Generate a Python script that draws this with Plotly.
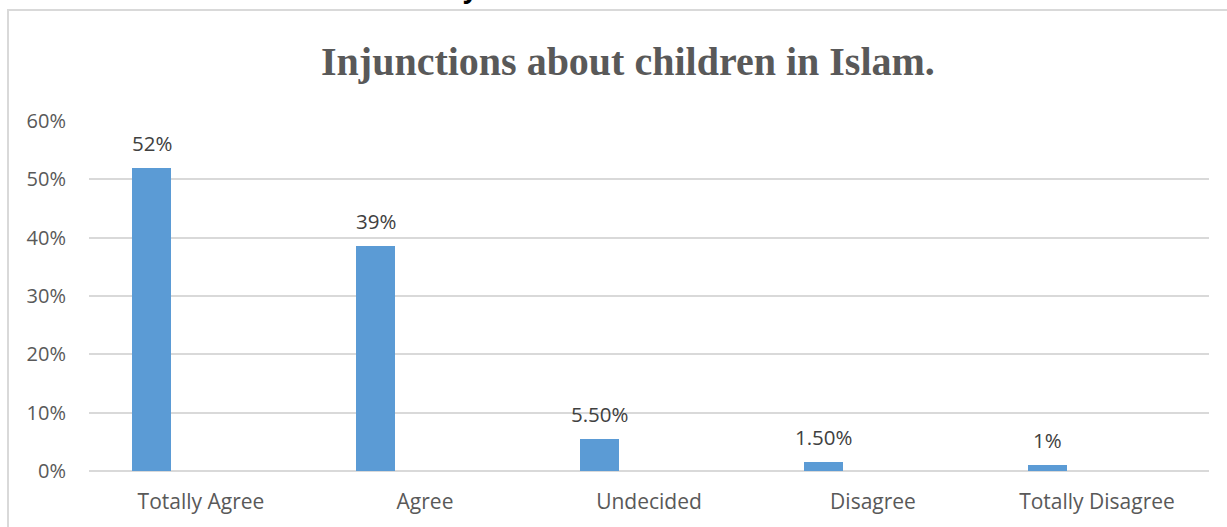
import plotly.graph_objects as go

categories = ["Totally Agree", "Agree", "Undecided", "Disagree", "Totally Disagree"]
values = [52, 38.5, 5.5, 1.5, 1]
value_labels = ["52%", "39%", "5.50%", "1.50%", "1%"]
y_ticks = [0, 10, 20, 30, 40, 50, 60]
y_tick_labels = ["0%", "10%", "20%", "30%", "40%", "50%", "60%"]
title_text = "Injunctions about children in Islam."
cut_text = "y"

W, H = 1227, 527
L, R, T, B = 89, 18, 121, 56
pw, ph = W - L - R, H - T - B

BAR_W = 39 / 224
BAR_OFF = -69 / 224
LABEL_XSHIFT = -49.5
FONT = "Open Sans"

fig = go.Figure()
fig.add_trace(go.Bar(
    x=categories, y=values,
    width=[BAR_W] * len(categories), offset=BAR_OFF,
    marker=dict(color="#5B9BD5", line=dict(width=0)),
    hoverinfo="skip",
))

for c, v, t in zip(categories, values, value_labels):
    fig.add_annotation(x=c, y=v, text=t, showarrow=False, xref="x", yref="y",
                       xshift=LABEL_XSHIFT, yshift=25, yanchor="middle",
                       font=dict(family=FONT, size=20.5, color="#404040"))

def px_x(p):
    return (p - L) / pw
def px_y(p):
    return (H - B - p) / ph

fig.add_shape(type="rect", xref="paper", yref="paper",
              x0=px_x(8), x1=px_x(1240), y0=px_y(540), y1=px_y(10),
              line=dict(color="#D9D9D9", width=2), fillcolor="rgba(0,0,0,0)", layer="below")

fig.add_annotation(xref="paper", yref="paper", x=px_x(628), y=px_y(62),
                   text="<b>" + title_text + "</b>", showarrow=False,
                   xanchor="center", yanchor="middle",
                   font=dict(family="Liberation Serif", size=40, color="#595959"))

# fragment of text from the page above, cut by the top edge
fig.add_annotation(xref="paper", yref="paper", x=px_x(470), y=px_y(-12),
                   text="<b>" + cut_text + "</b>", showarrow=False,
                   xanchor="center", yanchor="middle",
                   font=dict(family=FONT, size=26, color="#000000"))

fig.update_layout(
    width=W, height=H,
    margin=dict(l=L, r=R, t=T, b=B, pad=0),
    paper_bgcolor="white", plot_bgcolor="white",
    showlegend=False,
    bargap=0,
    xaxis=dict(type="category", showgrid=False, zeroline=False, showline=False,
               ticks="", tickfont=dict(family=FONT, size=21, color="#595959"),
               ticklabelstandoff=16),
    yaxis=dict(range=[0, 60], tickvals=y_ticks, ticktext=y_tick_labels,
               showgrid=True, gridcolor="#D9D9D9", gridwidth=1.5,
               zeroline=True, zerolinecolor="#D9D9D9", zerolinewidth=1.5,
               showline=False, ticks="",
               tickfont=dict(family=FONT, size=20, color="#595959"),
               ticklabelstandoff=22),
)

fig.write_html("out.html", config={"displayModeBar": False},
               post_script="document.body.style.margin='0';document.body.style.overflow='hidden';")
